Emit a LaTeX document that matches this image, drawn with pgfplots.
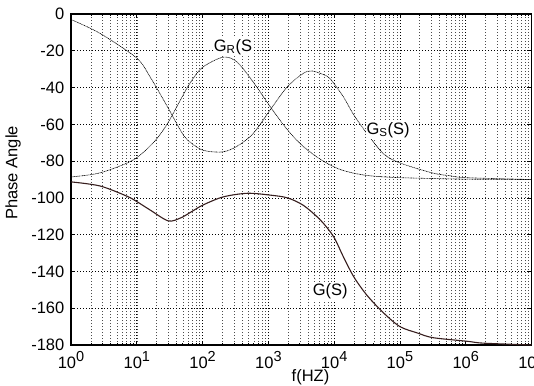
\documentclass[border=0pt]{standalone}
\usepackage{pgfplots}
\pgfplotsset{compat=1.18}
\usepackage{fontspec}
\setmainfont{Liberation Sans}
\newcommand{\tp}[1]{10\raisebox{0.42em}{\fontsize{14.5}{15}\selectfont #1}}
\definecolor{gcol}{RGB}{55,30,30}
\definecolor{thin}{RGB}{120,120,120}
\begin{document}
\fontsize{16.5}{19}\selectfont
\begin{tikzpicture}
\begin{axis}[
  at={(0,0)}, anchor=south west,
  scale only axis, width=460.5pt, height=331pt,
  xmode=log, xmin=1, xmax=1e7, ymin=-180, ymax=0,
  ytick={-180,-160,-140,-120,-100,-80,-60,-40,-20,0},
  yticklabels={-180,-160,-140,-120,-100,-80,-60,-40,-20,0},
  xtick={1,10,100,1000,10000,100000,1000000,10000000},
  xticklabels={\tp{0},\tp{1},\tp{2},\tp{3},\tp{4},\tp{5},\tp{6},\tp{7}},
  grid=both,
  major grid style={black, line width=0.6pt, dash pattern=on 0.8pt off 2.2pt},
  minor grid style={black!70, line width=0.5pt, dash pattern=on 0.8pt off 2.2pt},
  tick align=inside,
  major tick length=4pt, minor tick length=2.5pt,
  tick style={black, line width=0.6pt},
  axis line style={black, line width=1.3pt},
  yticklabel style={xshift=-1pt},
  xticklabel style={yshift=-1pt},
  xlabel={f(HZ)}, ylabel={Phase Angle},
  xlabel style={at={(axis description cs:0.52,0)}, anchor=north, yshift=-24.5pt, inner sep=0pt},
  ylabel style={at={(axis description cs:0,0.52)}, anchor=south, yshift=50pt, inner sep=0pt},
  clip=true,
]
% G_R(S)
\addplot[thin, line width=0.6pt, dash pattern=on 1pt off 0.6pt, smooth, tension=0.5] coordinates {
 (1,-88.6) (2.75,-86.4) (8.7,-79.5) (17.8,-70) (28.8,-60) (45.7,-47) (64.6,-37.5)
 (100,-29) (204,-23.5) (331,-26) (589,-37) (1072,-50.5) (1950,-63) (3388,-72)
 (6166,-79) (11220,-84) (19500,-86.5) (35480,-88) (100000,-89) (1000000,-89.8) (10000000,-90)
};
% G_S(S)
\addplot[thin, line width=0.6pt, dash pattern=on 1pt off 0.6pt, smooth, tension=0.5] coordinates {
 (1,-3) (2.75,-10.5) (10,-24) (15.8,-34) (28.8,-50) (45.7,-63) (59,-68.5)
 (100,-74) (200,-75) (331,-72) (589,-65) (1072,-52) (1950,-39.5) (3388,-32.3)
 (4677,-31) (7943,-34) (10000,-38) (13800,-45) (20000,-55) (31600,-65) (56230,-76)
 (100000,-81) (316000,-86.5) (589000,-88) (1000000,-89) (10000000,-90)
};
% G(S)
\addplot[gcol, line width=1.1pt, smooth, tension=0.5] coordinates {
 (1,-91.3) (2.75,-93.5) (7,-99) (10,-102) (15.8,-106.5) (30,-112.5) (45.7,-111)
 (64.6,-108) (100,-104) (204,-99.5) (479,-97.5) (1072,-98.5) (1950,-100)
 (3388,-104) (6166,-112) (9772,-121) (13800,-132) (19950,-143) (31600,-153)
 (56230,-162.5) (100000,-170) (186000,-173.5) (316000,-176) (1070000,-178)
 (1860000,-179) (10000000,-180)
};
\node[fill=white, inner sep=1pt] at (axis cs:290,-18) {G\textsubscript{R}(S};
\node[fill=white, inner sep=1pt] at (axis cs:66000,-63) {G\textsubscript{S}(S)};
\node[fill=white, inner sep=1pt] at (axis cs:8700,-151) {G(S)};
\end{axis}
\pgfresetboundingbox
\path[use as bounding box] (-71pt,-40pt) rectangle (463pt,345pt);
\end{tikzpicture}
\end{document}
